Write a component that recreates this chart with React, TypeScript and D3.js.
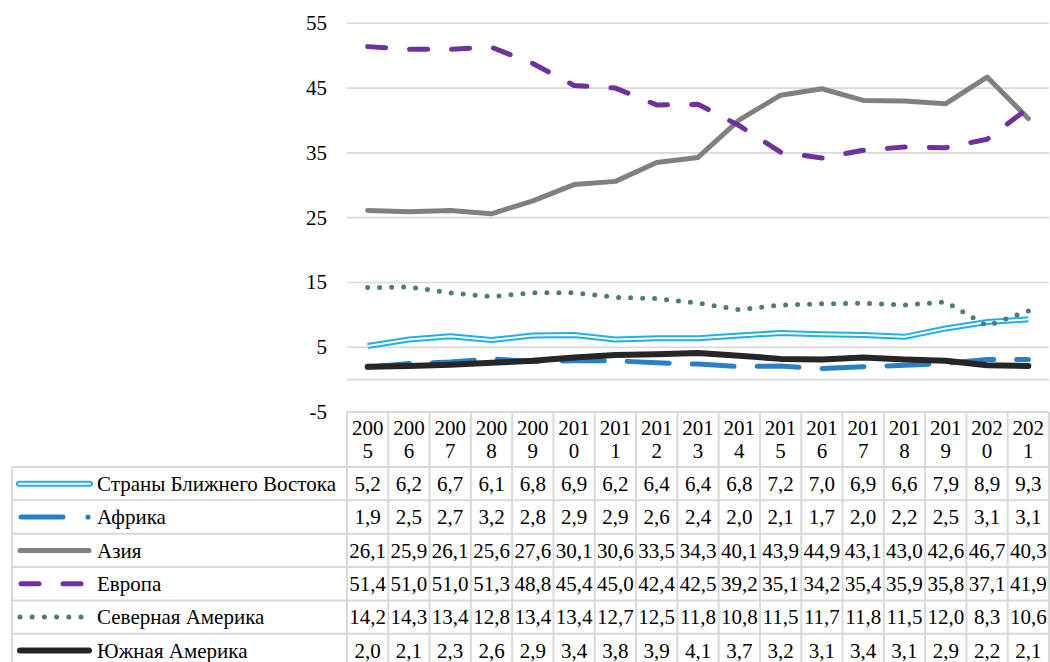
import React from "react";
import * as d3 from "d3";

const years = ["2005","2006","2007","2008","2009","2010","2011","2012","2013","2014","2015","2016","2017","2018","2019","2020","2021"];
const yTicks = [55, 45, 35, 25, 15, 5, -5];

const seriesNames = ["Страны Ближнего Востока", "Африка", "Азия", "Европа", "Северная Америка", "Южная Америка"];
const mideast = [5.2,6.2,6.7,6.1,6.8,6.9,6.2,6.4,6.4,6.8,7.2,7.0,6.9,6.6,7.9,8.9,9.3];
const africa = [1.9,2.5,2.7,3.2,2.8,2.9,2.9,2.6,2.4,2.0,2.1,1.7,2.0,2.2,2.5,3.1,3.1];
const asia = [26.1,25.9,26.1,25.6,27.6,30.1,30.6,33.5,34.3,40.1,43.9,44.9,43.1,43.0,42.6,46.7,40.3];
const europe = [51.4,51.0,51.0,51.3,48.8,45.4,45.0,42.4,42.5,39.2,35.1,34.2,35.4,35.9,35.8,37.1,41.9];
const namerica = [14.2,14.3,13.4,12.8,13.4,13.4,12.7,12.5,11.8,10.8,11.5,11.7,11.8,11.5,12.0,8.3,10.6];
const samerica = [2.0,2.1,2.3,2.6,2.9,3.4,3.8,3.9,4.1,3.7,3.2,3.1,3.4,3.1,2.9,2.2,2.1];

const seriesValues = [mideast, africa, asia, europe, namerica, samerica];

const FONT = "'Liberation Serif', 'Times New Roman', serif";
const W = 1050, H = 662;
const plotLeft = 347, plotRight = 1049, plotTop = 23.3, plotBottom = 412;
const headerBottom = 467;
const rowH = 33.35;
const tableLeft = 12;
const grid = "#d9d9d9";

const styles = [
  { color: "#1fb0ea", width: 6, dash: null as string | null, double: true },
  { color: "#2a80c6", width: 5, dash: "42 23", double: false },
  { color: "#808080", width: 5, dash: null, double: false },
  { color: "#7030a0", width: 5, dash: "18 24", double: false },
  { color: "#4b7d75", width: 5, dash: "0 12", double: false },
  { color: "#262626", width: 6, dash: null, double: false },
];

function fmt(v: number) {
  return v.toFixed(1).replace(".", ",");
}

export default function App() {
  const x = d3.scaleBand<string>().domain(years).range([plotLeft, plotRight]).padding(0);
  const y = d3.scaleLinear().domain([-5, 55]).range([plotBottom, plotTop]);
  const cx = (yr: string) => (x(yr) as number) + x.bandwidth() / 2;
  const line = d3
    .line<number>()
    .x((_, i) => cx(years[i]))
    .y((v) => y(v));

  const bw = x.bandwidth();

  const renderSeries = (vals: number[], i: number) => {
    const s = styles[i];
    const d = line(vals) || "";
    if (s.double) {
      return (
        <g key={i}>
          <path d={d} fill="none" stroke={s.color} strokeWidth={s.width} strokeLinejoin="round" />
          <path d={d} fill="none" stroke="#fff" strokeWidth={2} strokeLinejoin="round" />
        </g>
      );
    }
    return (
      <path
        key={i}
        d={d}
        fill="none"
        stroke={s.color}
        strokeWidth={s.width}
        strokeDasharray={s.dash || undefined}
        strokeLinecap="round"
        strokeLinejoin="round"
      />
    );
  };

  const legendKey = (i: number, cy: number) => {
    const s = styles[i];
    if (s.double) {
      return (
        <g>
          <line x1={19} x2={90} y1={cy} y2={cy} stroke={s.color} strokeWidth={6} strokeLinecap="round" />
          <line x1={19} x2={90} y1={cy} y2={cy} stroke="#fff" strokeWidth={2} strokeLinecap="round" />
        </g>
      );
    }
    if (i === 1) {
      return (
        <g>
          <line x1={21} x2={63} y1={cy} y2={cy} stroke={s.color} strokeWidth={5} strokeLinecap="round" />
          <circle cx={88} cy={cy} r={2.6} fill={s.color} />
        </g>
      );
    }
    if (i === 3) {
      return (
        <line x1={21} x2={88} y1={cy} y2={cy} stroke={s.color} strokeWidth={5} strokeDasharray="18 24" strokeLinecap="round" />
      );
    }
    if (i === 4) {
      return (
        <line x1={20} x2={84} y1={cy} y2={cy} stroke={s.color} strokeWidth={5} strokeDasharray="0 12.2" strokeLinecap="round" />
      );
    }
    return <line x1={20} x2={89} y1={cy} y2={cy} stroke={s.color} strokeWidth={s.width} strokeLinecap="round" />;
  };

  return (
    <svg
      width={W}
      height={H}
      viewBox={`0 0 ${W} ${H}`}
      style={{ position: "absolute", left: 0, top: 0, background: "#fff" }}
      fontFamily={FONT}
    >
      {/* gridlines */}
      {yTicks.filter((t) => t > -5).map((t) => (
        <line key={t} x1={plotLeft} x2={plotRight} y1={y(t)} y2={y(t)} stroke={grid} strokeWidth={1.6} />
      ))}
      <line x1={plotLeft} x2={plotRight} y1={y(0)} y2={y(0)} stroke={grid} strokeWidth={1.6} />

      {/* y tick labels */}
      {yTicks.map((t) => (
        <text key={t} x={327} y={y(t) + 7} textAnchor="end" fontSize={21} fill="#000">
          {t}
        </text>
      ))}

      {/* series */}
      {seriesValues.map((vals, i) => renderSeries(vals, i))}

      {/* table: header */}
      <g>
        <line x1={plotLeft} x2={plotRight} y1={plotBottom} y2={plotBottom} stroke={grid} strokeWidth={2} />
        {years.map((yr) => {
          const x0 = x(yr) as number;
          return (
            <g key={yr}>
              <line x1={x0} x2={x0} y1={plotBottom} y2={H} stroke={grid} strokeWidth={2} />
              <text x={x0 + bw / 2} y={435} textAnchor="middle" fontSize={21} fill="#000">
                {yr.slice(0, 3)}
              </text>
              <text x={x0 + bw / 2} y={458} textAnchor="middle" fontSize={21} fill="#000">
                {yr.slice(3)}
              </text>
            </g>
          );
        })}
        <line x1={plotRight} x2={plotRight} y1={plotBottom} y2={H} stroke={grid} strokeWidth={2} />
        <line x1={tableLeft} x2={tableLeft} y1={headerBottom} y2={H} stroke={grid} strokeWidth={2} />
        {seriesNames.map((name, i) => {
          const top = headerBottom + i * rowH;
          const cy = top + rowH / 2;
          return (
            <g key={name}>
              <line x1={tableLeft} x2={plotRight} y1={top} y2={top} stroke={grid} strokeWidth={2} />
              {legendKey(i, cy)}
              <text x={97} y={cy + 7.4} fontSize={21} fill="#000">
                {name}
              </text>
              {seriesValues[i].map((v, j) => (
                <text key={j} x={cx(years[j])} y={cy + 7.4} textAnchor="middle" fontSize={21} fill="#000">
                  {fmt(v)}
                </text>
              ))}
            </g>
          );
        })}
      </g>
    </svg>
  );
}
